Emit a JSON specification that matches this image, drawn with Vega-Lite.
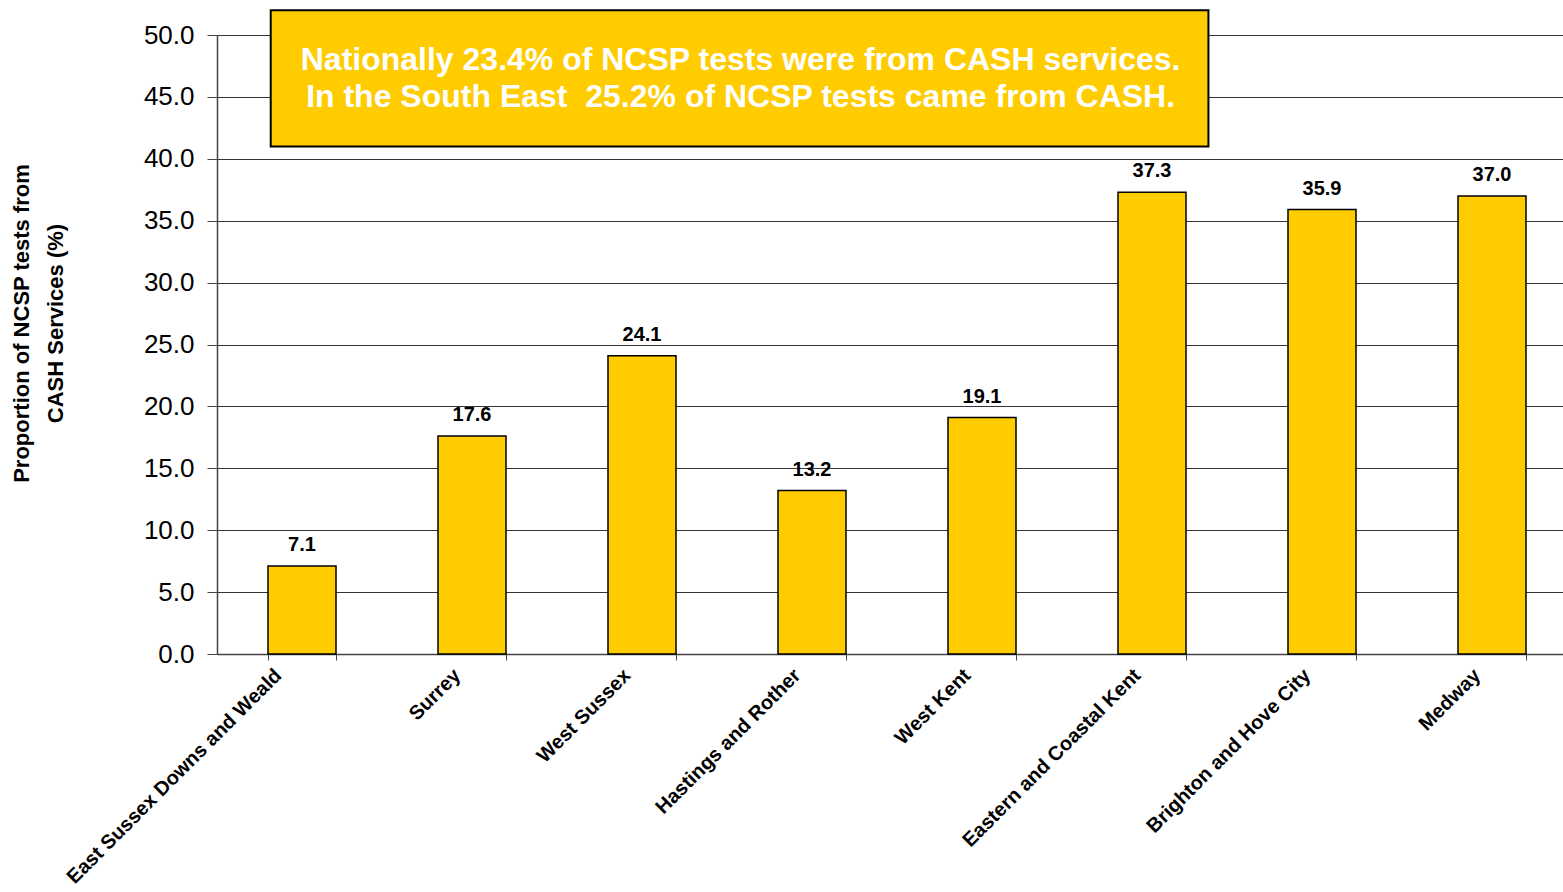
{
  "$schema": "https://vega.github.io/schema/vega-lite/v6.json",
  "width": 1360,
  "height": 619,
  "autosize": {"type": "none"},
  "padding": {"left": 217, "top": 35, "right": -14, "bottom": 238},
  "background": "white",
  "config": {
    "view": {"stroke": null},
    "font": "Liberation Sans"
  },
  "datasets": {
    "bars": [
      {"region": "East Sussex Downs and Weald", "value": 7.1},
      {"region": "Surrey", "value": 17.6},
      {"region": "West Sussex", "value": 24.1},
      {"region": "Hastings and Rother", "value": 13.2},
      {"region": "West Kent", "value": 19.1},
      {"region": "Eastern and Coastal Kent", "value": 37.3},
      {"region": "Brighton and Hove City", "value": 35.9},
      {"region": "Medway", "value": 37.0}
    ],
    "note": [
      {"note": "Nationally 23.4% of NCSP tests were from CASH services.\nIn the South East\u00a0 25.2% of NCSP tests came from CASH."}
    ]
  },
  "layer": [
    {
      "data": {"name": "bars"},
      "mark": {"type": "bar", "fill": "#FFCC00", "stroke": "#000000", "strokeWidth": 1.5},
      "encoding": {
        "x": {
          "field": "region",
          "type": "nominal",
          "sort": null,
          "scale": {
            "domain": ["East Sussex Downs and Weald", "Surrey", "West Sussex", "Hastings and Rother", "West Kent", "Eastern and Coastal Kent", "Brighton and Hove City", "Medway"],
            "paddingInner": 0.6,
            "paddingOuter": 0.3
          },
          "axis": {
            "title": null,
            "labelAngle": -45,
            "labelAlign": "right",
            "labelBaseline": "middle",
            "labelFontSize": 20,
            "labelFontWeight": "bold",
            "labelColor": "#000000",
            "labelPadding": 12,
            "labelOffset": {"condition": {"test": "datum.value === 'East Sussex Downs and Weald'", "value": -24}, "value": -15},
            "labelLimit": 400,
            "tickBand": "extent",
            "tickSize": 6,
            "tickColor": "#444444",
            "domainColor": "#444444",
            "domainWidth": 1.5,
            "grid": false
          }
        },
        "y": {
          "field": "value",
          "type": "quantitative",
          "scale": {"domain": [0, 50], "nice": false},
          "axis": {
            "title": ["Proportion of NCSP tests from", "CASH Services (%)"],
            "titleFontSize": 22,
            "titleFontWeight": "bold",
            "titleColor": "#000000",
            "titleX": -206,
            "titleY": 288,
            "titleBaseline": "top",
            "titleLineHeight": 34,
            "values": [0, 5, 10, 15, 20, 25, 30, 35, 40, 45, 50],
            "format": ".1f",
            "labelFontSize": 26,
            "labelColor": "#000000",
            "labelPadding": 13,
            "tickSize": 10,
            "tickColor": "#444444",
            "domainColor": "#444444",
            "domainWidth": 1.5,
            "grid": true,
            "gridColor": "#333333",
            "gridWidth": 1
          }
        }
      }
    },
    {
      "data": {"name": "bars"},
      "mark": {"type": "text", "fontSize": 20, "fontWeight": "bold", "color": "#000000", "dy": -21, "baseline": "middle"},
      "encoding": {
        "x": {"field": "region", "type": "nominal", "sort": null},
        "y": {"field": "value", "type": "quantitative"},
        "text": {"field": "value", "type": "quantitative", "format": ".1f"}
      }
    },
    {
      "data": {"name": "note"},
      "mark": {"type": "rect", "fill": "#FFCC00", "stroke": "#000000", "strokeWidth": 2, "clip": false},
      "encoding": {
        "x": {"datum": "East Sussex Downs and Weald", "bandPosition": 0.04},
        "x2": {"datum": "Eastern and Coastal Kent", "bandPosition": 1.33},
        "y": {"datum": 52.0},
        "y2": {"datum": 41.0}
      }
    },
    {
      "data": {"name": "note"},
      "mark": {"type": "text", "fontSize": 32, "fontWeight": "bold", "color": "#FFFFFF", "lineBreak": "\n", "lineHeight": 37, "align": "center", "baseline": "middle", "clip": false},
      "encoding": {
        "x": {"datum": "West Sussex", "bandPosition": 1.95},
        "y": {"datum": 47.98},
        "text": {"field": "note", "type": "nominal"}
      }
    }
  ]
}
